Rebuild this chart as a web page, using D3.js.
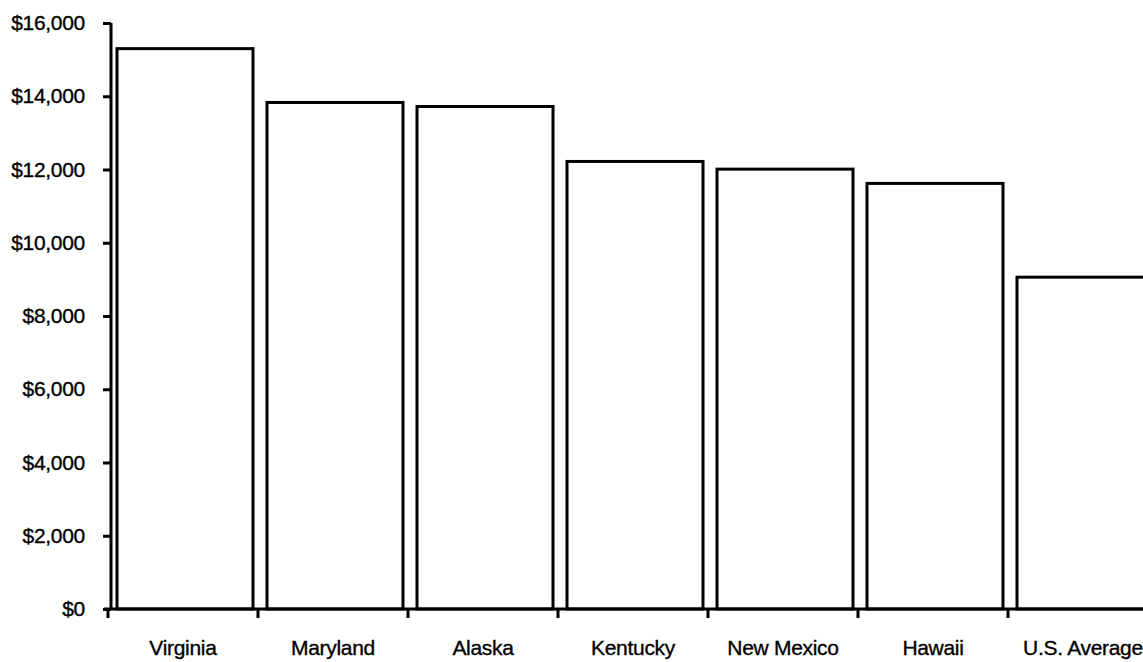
<!DOCTYPE html>
<html>
<head>
<meta charset="utf-8">
<script src="https://cdn.jsdelivr.net/npm/d3@7"></script>
<style>
  html, body { margin: 0; padding: 0; background: #fff; }
  svg { display: block; }
  text { font-family: "Liberation Sans", Arial, sans-serif; fill: #000; }
</style>
</head>
<body>
<svg id="chart" width="1143" height="662"></svg>
<script>
const categories = ["Virginia", "Maryland", "Alaska", "Kentucky", "New Mexico", "Hawaii", "U.S. Average"];
const values = [15300, 13830, 13720, 12220, 12010, 11620, 9060];
const yTicks = [0, 2000, 4000, 6000, 8000, 10000, 12000, 14000, 16000];

const svg = d3.select("#chart");
const x = d3.scaleBand().domain(categories).range([108, 1158]).padding(0);
const y = d3.scaleLinear().domain([0, 16000]).range([609, 23]);

// bars
svg.append("g").selectAll("rect").data(categories).join("rect")
  .attr("x", d => x(d) + 9)
  .attr("y", (d, i) => y(values[i]))
  .attr("width", x.bandwidth() - 14)
  .attr("height", (d, i) => y(0) - y(values[i]))
  .attr("fill", "#fff")
  .attr("stroke", "#000")
  .attr("stroke-width", 3);

// y axis
const yAxis = svg.append("g").attr("transform", "translate(111,0)")
  .call(d3.axisLeft(y).tickValues(yTicks).tickSize(8).tickPadding(18)
    .tickFormat(d => "$" + d3.format(",")(d)));
yAxis.select(".domain").attr("stroke-width", 3).attr("d", `M0,${y(16000)}V${y(0)}`);
yAxis.selectAll(".tick line").attr("stroke-width", 3);
yAxis.selectAll(".tick text").attr("font-size", 21).attr("font-family", "Liberation Sans, Arial, sans-serif")
  .attr("letter-spacing", -0.3).attr("stroke", "#000").attr("stroke-width", 0.35);

// x axis
const xg = svg.append("g");
xg.append("line").attr("x1", 104).attr("x2", 1143).attr("y1", y(0)).attr("y2", y(0))
  .attr("stroke", "#000").attr("stroke-width", 3);
xg.selectAll("line.t").data(categories).join("line").attr("class", "t")
  .attr("x1", d => x(d)).attr("x2", d => x(d))
  .attr("y1", y(0)).attr("y2", y(0) + 9)
  .attr("stroke", "#000").attr("stroke-width", 3);
xg.selectAll("text").data(categories).join("text")
  .attr("x", d => x(d) + x.bandwidth() / 2)
  .attr("y", 655)
  .attr("text-anchor", "middle")
  .attr("font-size", 21)
  .attr("letter-spacing", -0.3)
  .attr("stroke", "#000").attr("stroke-width", 0.35)
  .text(d => d);
</script>
</body>
</html>
